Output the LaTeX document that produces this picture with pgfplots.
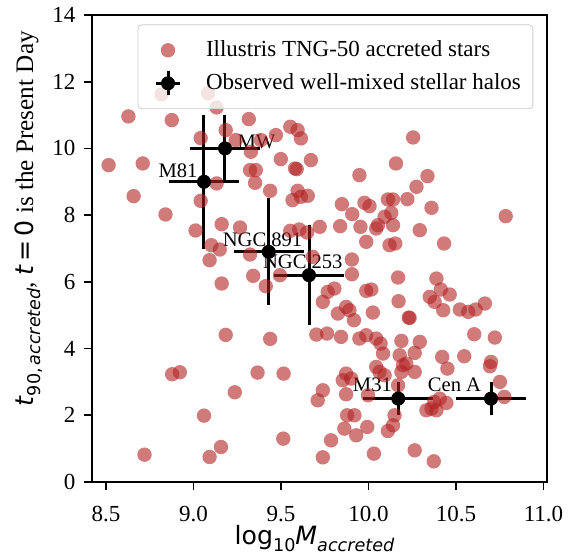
\documentclass[border=0pt]{standalone}
\usepackage{fontspec}
\setmainfont{Liberation Serif}
\newfontfamily\dejavu{DejaVu Sans}
\usepackage{pgfplots}
\pgfplotsset{compat=1.18}

\definecolor{firebrick}{RGB}{178,34,34}
\newcommand{\tickfont}{\fontsize{11.5}{13}\selectfont}
\newcommand{\notefont}{\fontsize{10.3}{12}\selectfont}
\newcommand{\labfont}{\fontsize{12.6}{15}\selectfont}
\newcommand{\subfont}{\fontsize{8.8}{10}\selectfont}

% TNG-50 accreted stars
\pgfplotstableread{
x y
8.817 11.62
9.083 11.66
9.132 11.23
8.628 10.96
8.876 10.85
9.316 10.88
9.041 10.31
9.184 10.55
9.242 10.25
9.328 9.90
9.385 10.25
9.471 10.40
9.553 10.65
9.595 10.55
9.614 10.30
9.499 9.68
9.671 9.65
9.580 9.40
9.590 9.38
9.323 9.35
9.356 9.35
8.515 9.50
8.710 9.55
9.132 8.95
9.352 8.97
9.438 8.73
8.658 8.57
8.840 8.02
9.041 8.43
9.566 8.45
9.595 8.73
9.614 8.55
9.653 8.58
9.161 7.73
9.266 7.63
9.012 7.54
9.553 7.53
9.604 7.57
9.649 7.48
9.721 7.65
9.102 7.10
9.150 6.97
9.092 6.65
9.323 6.82
9.681 6.75
9.341 6.18
9.413 5.87
9.494 6.20
9.161 5.95
9.184 4.41
9.438 4.29
9.702 4.42
9.763 4.45
8.878 3.23
8.922 3.29
9.366 3.28
9.515 3.25
9.236 2.69
9.739 2.75
9.710 2.45
9.060 1.99
9.513 1.30
9.786 1.25
8.720 0.82
9.092 0.75
9.157 1.05
9.739 0.74
10.255 10.33
10.157 9.55
9.948 9.20
10.337 9.17
10.274 8.85
9.848 8.33
9.977 8.37
10.006 8.27
10.111 8.47
10.140 8.47
10.222 8.48
10.360 8.22
9.907 8.03
10.130 8.07
10.092 7.95
10.784 7.97
9.838 7.67
9.954 7.65
10.044 7.60
10.054 7.70
10.140 7.70
10.293 7.55
9.987 7.20
10.120 7.10
10.153 7.15
10.432 7.15
9.905 6.67
9.905 6.23
10.169 6.13
10.388 6.10
10.413 5.77
10.464 5.62
10.350 5.55
10.378 5.40
10.427 5.15
10.522 5.17
10.570 5.10
10.612 5.17
10.665 5.35
9.805 5.80
9.767 5.70
9.739 5.40
9.987 5.73
10.016 5.77
10.172 5.42
9.872 5.25
9.891 5.15
9.825 5.05
9.917 4.85
10.025 5.08
10.230 4.93
10.235 4.92
9.843 4.35
9.948 4.30
9.987 4.40
10.044 4.30
10.069 4.15
10.188 4.23
10.293 4.20
10.604 4.43
10.722 4.33
10.083 3.85
10.178 3.80
10.264 3.87
10.421 3.75
10.547 3.77
10.700 3.60
10.694 3.47
10.451 3.40
10.044 3.45
10.063 3.30
10.197 3.50
10.216 3.55
10.188 3.30
10.264 3.30
10.092 3.20
9.872 3.25
9.901 3.10
9.853 3.05
9.872 2.63
9.997 2.60
10.169 2.90
10.751 3.00
10.776 2.55
10.375 2.40
10.360 2.20
10.388 2.15
10.445 2.37
10.407 2.50
10.331 2.15
10.149 2.00
10.140 1.70
10.111 1.53
9.878 2.00
9.920 2.00
9.862 1.60
9.930 1.40
9.993 1.65
10.031 0.85
10.264 0.95
10.373 0.62
}\tngdata

% observed halos: x y ex ey
\pgfplotstableread{
x y ex ey
9.06 9.0 0.2 2.0
9.18 10.0 0.2 1.0
9.43 6.9 0.2 1.6
9.66 6.2 0.2 1.5
10.17 2.5 0.2 0.5
10.70 2.5 0.2 0.5
}\obsdata

\begin{document}
\begin{tikzpicture}
\begin{axis}[
    scale only axis,
    width=227.5pt, height=233.5pt,
    xmin=8.42, xmax=11.02,
    ymin=0, ymax=14,
    xtick={8.5,9.0,9.5,10.0,10.5,11.0},
    xticklabels={8.5,9.0,9.5,10.0,10.5,11.0},
    ytick={0,2,4,6,8,10,12,14},
    yticklabels={0,2,4,6,8,10,12,14},
    tick pos=left,
    tick align=outside,
    major tick length=3.8pt,
    tick style={black, line width=0.9pt},
    axis line style={line width=0.9pt},
    tick label style={font=\tickfont},
    xticklabel style={yshift=-5pt},
    yticklabel style={xshift=-1pt},
    xlabel={{\dejavu log}\raisebox{-0.28em}{\subfont\dejavu 10}{\dejavu\itshape M}\raisebox{-0.28em}{\subfont\dejavu\itshape accreted}},
    xlabel style={font=\labfont, at={(axis description cs:0.489,-0.121)}, anchor=center},
    ylabel={{\dejavu\itshape t}\raisebox{-0.28em}{\subfont\dejavu 90,\,\itshape accreted}, {\dejavu\itshape t}\,{\dejavu =}\,{\dejavu 0} is the Present Day},
    ylabel style={font=\labfont, at={(axis description cs:-0.14,0.564)}, anchor=center},
    legend style={at={(0.969,0.979)}, anchor=north east, draw=black!20, rounded corners=2pt,
        fill=white, fill opacity=0.8, text opacity=1, font=\tickfont, outer sep=0pt,
        inner xsep=4pt, inner ysep=6pt, row sep=3pt},
    legend cell align=left,
]
\addplot[only marks, mark=*, mark size=3.6pt,
    mark options={fill=firebrick, draw=firebrick, fill opacity=0.6, draw opacity=0},
    legend image code/.code={\path[draw=none] (0pt,0pt) -- (28pt,0pt);
        \path[draw=none, fill=firebrick, opacity=0.6] (11pt,0pt) circle (3.6pt);}]
    table[x=x, y=y] {\tngdata};
\addlegendentry{Illustris TNG-50 accreted stars}

\addplot[only marks, mark=*, mark size=3.3pt, black,
    error bars/.cd, x dir=both, x explicit, y dir=both, y explicit,
    error bar style={line width=1.5pt, black}, error mark=none,
    /pgfplots/legend image code/.code={\path[draw=none] (0pt,0pt) -- (28pt,0pt);
        \draw[black, draw opacity=1, line width=1.5pt] (11pt,-6pt) -- (11pt,6pt);
        \draw[black, draw opacity=1, line width=1.5pt] (5pt,0pt) -- (17pt,0pt);
        \fill[black, fill opacity=1] (11pt,0pt) circle (3.3pt);}]
    table[x=x, y=y, x error=ex, y error=ey] {\obsdata};
\addlegendentry{Observed well-mixed stellar halos}

\node[anchor=base east, inner sep=0, font=\notefont] at (axis cs:9.025,9.13) {M81};
\node[anchor=base west, inner sep=0, font=\notefont] at (axis cs:9.25,10.0) {MW};
\node[anchor=base west, inner sep=0, font=\notefont] at (axis cs:9.165,7.05) {NGC 891};
\node[anchor=base west, inner sep=0, font=\notefont] at (axis cs:9.395,6.40) {NGC 253};
\node[anchor=base east, inner sep=0, font=\notefont] at (axis cs:10.136,2.70) {M31};
\node[anchor=base west, inner sep=0, font=\notefont] at (axis cs:10.337,2.70) {Cen A};
\end{axis}
\pgfresetboundingbox
\useasboundingbox (-46pt,-36pt) rectangle (241pt,241pt);
\end{tikzpicture}
\end{document}
